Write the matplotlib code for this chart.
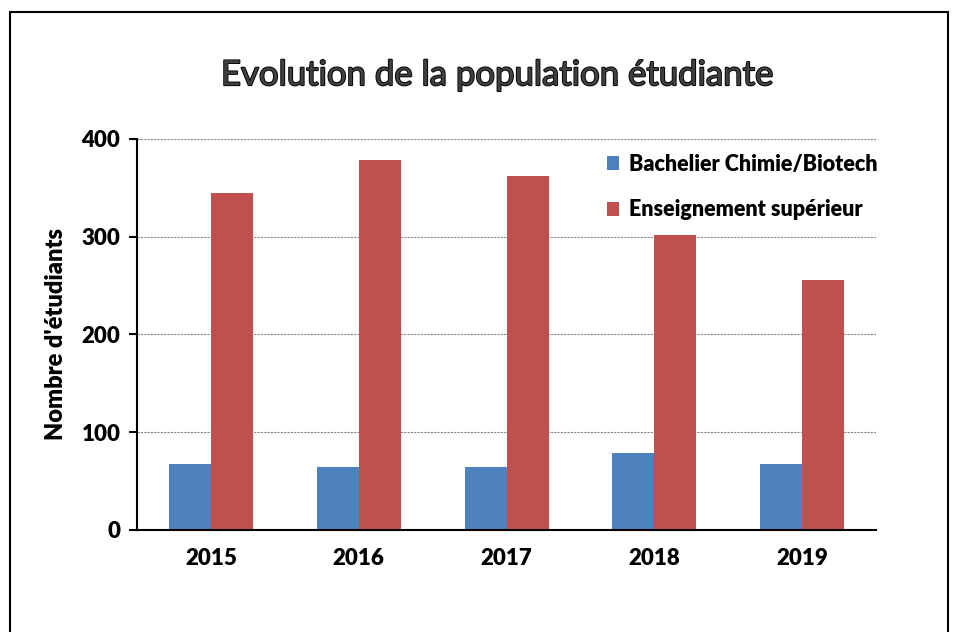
import numpy as np
import matplotlib
matplotlib.use('Agg')
import matplotlib.pyplot as plt
import matplotlib.patheffects as pe
from matplotlib.patches import Rectangle

# Data
years = ['2015', '2016', '2017', '2018', '2019']
bachelier = [68, 64, 64, 79, 68]
superieur = [345, 379, 362, 302, 256]

plt.rcParams['font.family'] = ['Lato', 'DejaVu Sans']
W = 'heavy'

fig = plt.figure(figsize=(9.57, 6.32), dpi=100)
ax = fig.add_axes([0.1432, 0.1614, 0.7722, 0.6187])

x = np.arange(len(years))
w = 0.284
ax.bar(x - w / 2, bachelier, w, color='#4F81BD', label='Bachelier Chimie/Biotech')
ax.bar(x + w / 2, superieur, w, color='#C0504D', label='Enseignement supérieur')

ax.set_xlim(-0.5, 4.5)
ax.set_ylim(0, 400)
ax.set_yticks([0, 100, 200, 300, 400])
ax.set_xticks(x)
ax.set_xticklabels(years)
ax.tick_params(axis='x', length=0, pad=13, labelsize=16)
ax.tick_params(axis='y', length=6, width=1.5, labelsize=16, pad=6)
for lab in ax.get_xticklabels() + ax.get_yticklabels():
    lab.set_fontweight(W)

ax.spines['top'].set_visible(False)
ax.spines['right'].set_visible(False)
ax.spines['left'].set_linewidth(1.5)
ax.spines['bottom'].set_linewidth(1.5)
ax.yaxis.grid(True, linestyle=(0, (2, 1)), color='#888888', linewidth=0.8)
ax.set_axisbelow(True)

ax.set_ylabel("Nombre d'étudiants", fontsize=17, fontweight=W, labelpad=10)

leg = ax.legend(loc='upper left', bbox_to_anchor=(0.61, 1.012), frameon=False,
                fontsize=15.5, handlelength=0.55, handleheight=0.6,
                handletextpad=0.45, labelspacing=1.15)
for t in leg.get_texts():
    t.set_fontweight(W)

fig.text(0.52, 0.881, 'Evolution de la population étudiante', ha='center', va='center',
         fontsize=25, fontweight='normal', color='#404040',
         path_effects=[pe.withStroke(linewidth=1.3, foreground='black')])

# outer frame of the chart area
fig.patches.append(Rectangle((0.0104, -0.05), 0.9802, 1.031, transform=fig.transFigure,
                             fill=False, edgecolor='black', linewidth=1.5))

fig.savefig('out.png', dpi=100)
